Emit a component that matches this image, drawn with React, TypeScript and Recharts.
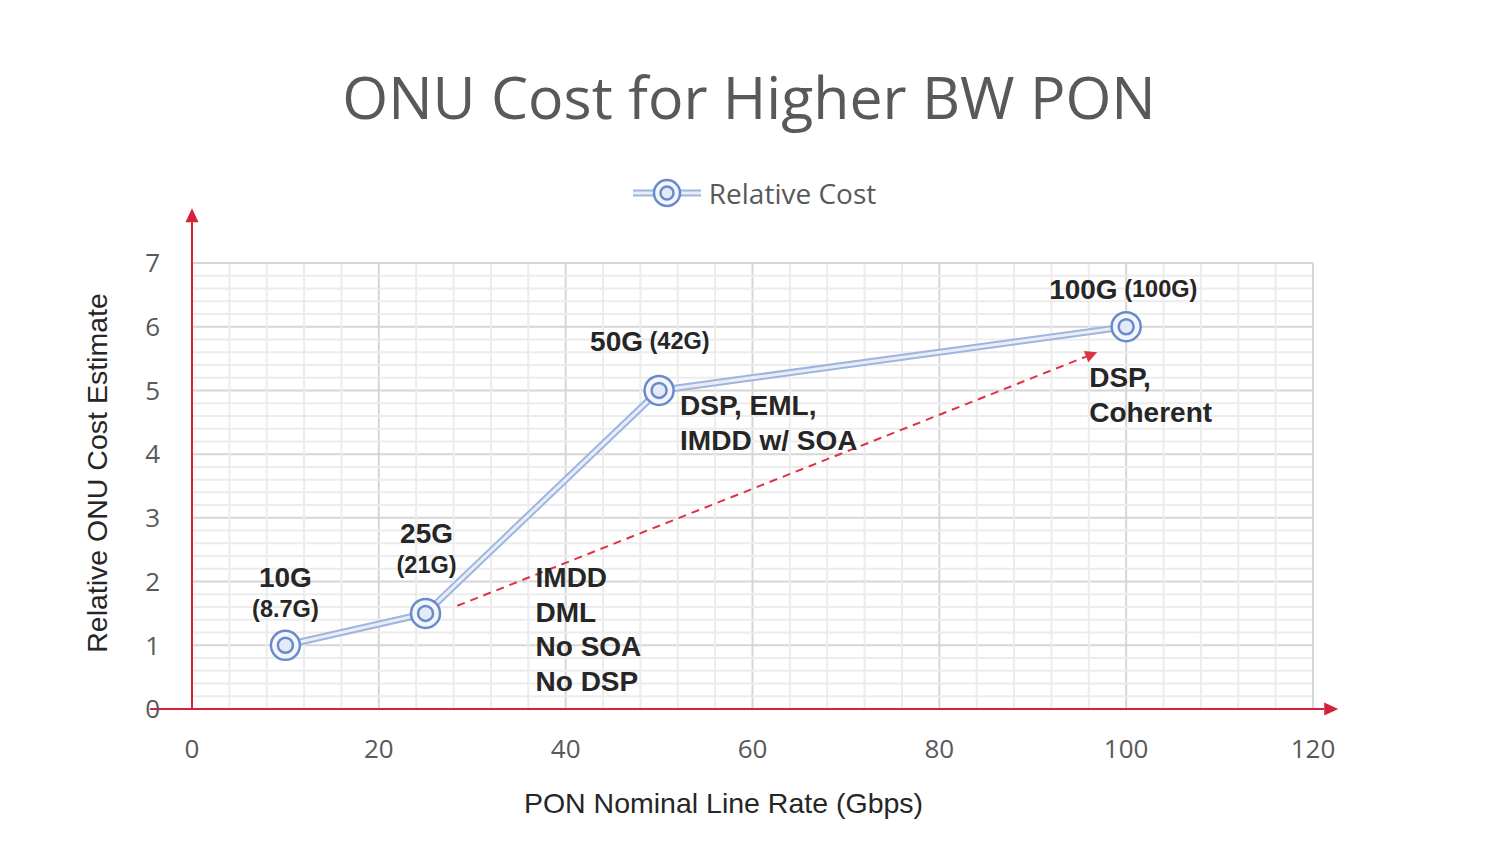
import React from 'react';
import {
  LineChart,
  Line,
  XAxis,
  YAxis,
  CartesianGrid,
  ReferenceLine,
  Legend,
} from 'recharts';

// ---- data ----
const lineRates = [10, 25, 50, 100];
const relativeCost = [1, 1.5, 5, 6];
const rateLabels = ['10G', '25G', '50G', '100G'];
const actualRateLabels = ['(8.7G)', '(21G)', '(42G)', '(100G)'];
const techNotes: string[][] = [
  [],
  ['IMDD', 'DML', 'No SOA', 'No DSP'],
  ['DSP, EML,', 'IMDD w/ SOA'],
  ['DSP,', 'Coherent'],
];
const xTicks = [0, 20, 40, 60, 80, 100, 120];
const yTicks = [0, 1, 2, 3, 4, 5, 6, 7];
const trendFrom = { x: 28.4, y: 1.62 };
const trendTo = { x: 96.9, y: 5.6 };

const data = lineRates.map((r, i) => ({ rate: r, cost: relativeCost[i] }));

// minor grid positions (between major ticks)
const xMinor: number[] = [];
for (let v = 4; v < 120; v += 4) if (v % 20 !== 0) xMinor.push(v);
const yMinor: number[] = [];
for (let k = 1; k < 35; k++) if (k % 5 !== 0) yMinor.push(k / 5);

// ---- styles / layout ----
const W = 1485;
const H = 854;
const RED = '#d3223a';
const BLUE_RING = '#6a8bcb';
const LINE_OUTER = '#9fb5e0';
const LINE_INNER = '#e8eef8';
const LABEL_FONT = '"Liberation Sans", Arial, sans-serif';
const TICK_FONT = '"Open Sans", sans-serif';
const DARK = '#262626';

const labelLayout = [
  { inline: false, dx: 0, dy: -68, subDx: 0, subDy: -36 },
  { inline: false, dx: 1, dy: -80, subDx: 1, subDy: -48 },
  { inline: true, dx: -69, dy: -49, subDx: 0, subDy: 0 },
  { inline: true, dx: -77, dy: -38, subDx: 0, subDy: 0 },
];
const noteLayout = [
  { dx: 0, dy: 0 },
  { dx: 110, dy: -36 },
  { dx: 21, dy: 15 },
  { dx: -37, dy: 51 },
];
const NOTE_LINE_H = 34.6;

const arrowShape = (color: string, dashed: boolean, headLen: number, headW: number) =>
  (props: any) => {
    const { x1, y1, x2, y2 } = props;
    const ang = Math.atan2(y2 - y1, x2 - x1);
    const bx = x2 - headLen * Math.cos(ang);
    const by = y2 - headLen * Math.sin(ang);
    const px = -Math.sin(ang) * headW;
    const py = Math.cos(ang) * headW;
    return (
      <g>
        <line
          x1={x1}
          y1={y1}
          x2={bx}
          y2={by}
          stroke={color}
          strokeWidth={2}
          strokeDasharray={dashed ? '8 6' : undefined}
        />
        <polygon
          points={`${x2},${y2} ${bx + px},${by + py} ${bx - px},${by - py}`}
          fill={color}
        />
      </g>
    );
  };

const renderDot = (props: any) => {
  const { cx, cy, index } = props;
  const lay = labelLayout[index];
  const note = noteLayout[index];
  const lines = techNotes[index] || [];
  return (
    <g key={`dot-${index}`}>
      <circle cx={cx} cy={cy} r={14.5} fill="#f3f6fc" stroke={BLUE_RING} strokeWidth={2.5} />
      <circle cx={cx} cy={cy} r={7.5} fill="#e4ebf7" stroke={BLUE_RING} strokeWidth={2.5} />
      {lay.inline ? (
        <text
          x={cx + lay.dx}
          y={cy + lay.dy}
          fontFamily={LABEL_FONT}
          fontWeight="bold"
          fill={DARK}
          dominantBaseline="central"
          textAnchor="start"
        >
          <tspan fontSize={28}>{rateLabels[index]}</tspan>
          <tspan fontSize={23.5}> {actualRateLabels[index]}</tspan>
        </text>
      ) : (
        <g>
          <text
            x={cx + lay.dx}
            y={cy + lay.dy}
            fontFamily={LABEL_FONT}
            fontWeight="bold"
            fontSize={28}
            fill={DARK}
            dominantBaseline="central"
            textAnchor="middle"
          >
            {rateLabels[index]}
          </text>
          <text
            x={cx + lay.subDx}
            y={cy + lay.subDy}
            fontFamily={LABEL_FONT}
            fontWeight="bold"
            fontSize={23.5}
            fill={DARK}
            dominantBaseline="central"
            textAnchor="middle"
          >
            {actualRateLabels[index]}
          </text>
        </g>
      )}
      {lines.map((t, k) => (
        <text
          key={k}
          x={cx + note.dx}
          y={cy + note.dy + k * NOTE_LINE_H}
          fontFamily={LABEL_FONT}
          fontWeight="bold"
          fontSize={28}
          fill={DARK}
          dominantBaseline="central"
          textAnchor="start"
        >
          {t}
        </text>
      ))}
    </g>
  );
};

const renderLegend = () => (
  <div
    style={{
      height: 40,
      display: 'flex',
      justifyContent: 'center',
      alignItems: 'center',
      fontFamily: TICK_FONT,
      fontSize: 28,
      color: '#595959',
      paddingLeft: 24,
    }}
  >
    <svg width={68} height={32} style={{ marginRight: 8 }}>
      <line x1={0} y1={16} x2={68} y2={16} stroke={LINE_OUTER} strokeWidth={7} />
      <line x1={0} y1={16} x2={68} y2={16} stroke={LINE_INNER} strokeWidth={3} />
      <circle cx={34} cy={16} r={13} fill="#f3f6fc" stroke={BLUE_RING} strokeWidth={2.5} />
      <circle cx={34} cy={16} r={6.5} fill="#e4ebf7" stroke={BLUE_RING} strokeWidth={2.5} />
    </svg>
    <span>Relative Cost</span>
  </div>
);

export default function App() {
  return (
    <div style={{ position: 'absolute', left: 0, top: 0, width: W, height: H, background: '#fff' }}>
      <div
        style={{
          position: 'absolute',
          left: 0,
          top: 56,
          width: 1498,
          textAlign: 'center',
          fontFamily: TICK_FONT,
          fontSize: 59,
          lineHeight: '80px',
          color: '#595959',
        }}
      >
        ONU Cost for Higher BW PON
      </div>
      <LineChart
        width={W}
        height={H}
        data={data}
        margin={{ top: 223, right: 172, bottom: 35, left: 0 }}
      >
        <Legend
          verticalAlign="top"
          content={renderLegend}
          wrapperStyle={{ top: 173, left: 0, width: W }}
        />
        {xMinor.map((v) => (
          <ReferenceLine key={`xm${v}`} x={v} stroke="#ececec" strokeWidth={2} />
        ))}
        {yMinor.map((v) => (
          <ReferenceLine key={`ym${v}`} y={v} stroke="#ececec" strokeWidth={2} />
        ))}
        <CartesianGrid stroke="#d6d6d6" strokeWidth={2} />
        <ReferenceLine x={120} stroke="#d6d6d6" strokeWidth={2} />
        <ReferenceLine y={7} stroke="#d6d6d6" strokeWidth={2} />
        <XAxis
          dataKey="rate"
          type="number"
          domain={[0, 120]}
          ticks={xTicks}
          axisLine={false}
          tickLine={false}
          tickSize={0}
          tickMargin={31}
          height={110}
          tick={{ fontFamily: TICK_FONT, fontSize: 26, fill: '#595959' }}
          label={(p: any) => {
            const vb = p.viewBox;
            return (
              <text
                x={vb.x + vb.width / 2 - 29}
                y={vb.y + 94}
                textAnchor="middle"
                dominantBaseline="central"
                fontFamily={LABEL_FONT}
                fontSize={28.5}
                fill={DARK}
              >
                PON Nominal Line Rate (Gbps)
              </text>
            );
          }}
        />
        <YAxis
          type="number"
          domain={[0, 7]}
          ticks={yTicks}
          axisLine={false}
          tickLine={false}
          tickSize={0}
          tickMargin={32}
          width={192}
          tick={{ fontFamily: TICK_FONT, fontSize: 26, fill: '#595959' }}
          label={(p: any) => {
            const vb = p.viewBox;
            const cx = vb.x + 97;
            const cy = vb.y + vb.height / 2 - 13;
            return (
              <text
                x={cx}
                y={cy}
                transform={`rotate(-90, ${cx}, ${cy})`}
                textAnchor="middle"
                dominantBaseline="central"
                fontFamily={LABEL_FONT}
                fontSize={28.5}
                fill={DARK}
              >
                Relative ONU Cost Estimate
              </text>
            );
          }}
        />
        <ReferenceLine
          segment={[{ x: -4.5, y: 0 }, { x: 122.7, y: 0 }]}
          ifOverflow="visible"
          shape={arrowShape(RED, false, 14, 6.5)}
        />
        <ReferenceLine
          segment={[{ x: 0, y: 0 }, { x: 0, y: 7.86 }]}
          ifOverflow="visible"
          shape={arrowShape(RED, false, 14, 6.5)}
        />
        <ReferenceLine
          segment={[trendFrom, trendTo]}
          ifOverflow="visible"
          shape={arrowShape('#dd3347', true, 12, 6)}
        />
        <Line
          dataKey="cost"
          stroke={LINE_OUTER}
          strokeWidth={7}
          dot={false}
          activeDot={false}
          isAnimationActive={false}
          legendType="none"
        />
        <Line
          dataKey="cost"
          name="Relative Cost"
          stroke={LINE_INNER}
          strokeWidth={3}
          dot={renderDot}
          activeDot={false}
          isAnimationActive={false}
        />
      </LineChart>
    </div>
  );
}
